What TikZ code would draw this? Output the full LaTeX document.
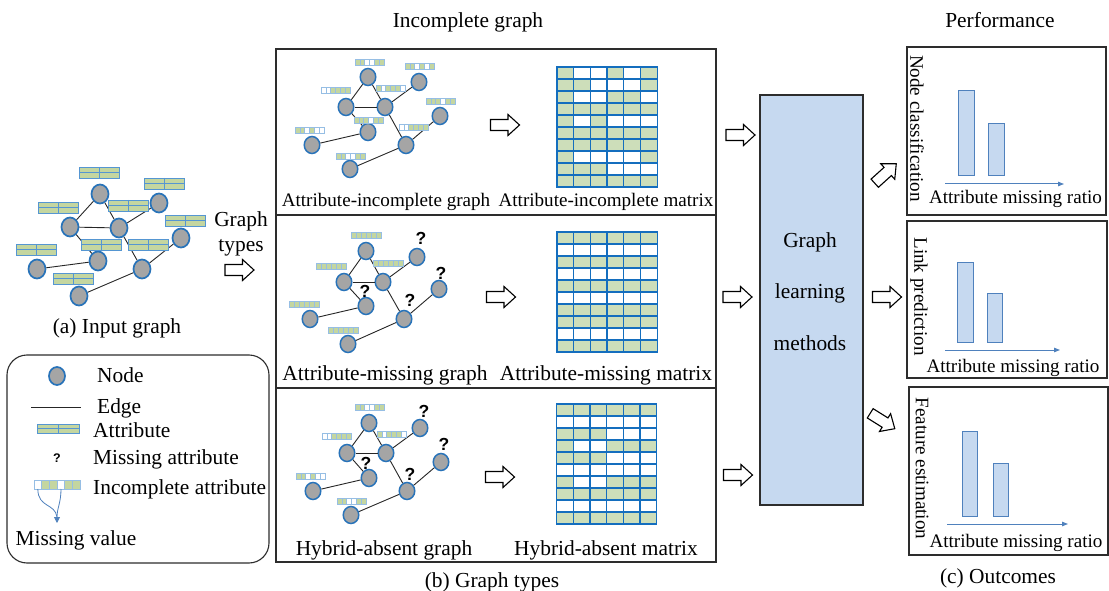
\documentclass[tikz,border=0pt]{standalone}
\usepackage{fontspec}
\setmainfont{Liberation Serif}
\newfontfamily\qfont{Liberation Sans}
\usetikzlibrary{shapes.geometric,arrows.meta}

\definecolor{nodegray}{RGB}{165,165,165}
\definecolor{nodeblue}{RGB}{40,115,185}
\definecolor{attrgreen}{RGB}{196,214,160}
\definecolor{matgreen}{RGB}{205,222,186}
\definecolor{matblue}{RGB}{20,110,190}
\definecolor{barblue}{RGB}{150,190,228}
\definecolor{attrblue}{RGB}{85,150,210}
\definecolor{boxfill}{RGB}{198,217,240}
\definecolor{boxedge}{RGB}{79,129,189}
\definecolor{framegray}{RGB}{45,45,45}

\newcommand\mybar[5]{% x, y, cell width, height, pattern
  \foreach \v [count=\i from 0] in {#5} {
    \ifnum\v=1\relax\def\cc{attrgreen}\else\def\cc{white}\fi
    \draw[barline, fill=\cc] ({#1+\i*#3},#2) rectangle ++(#3,#4);
  }}
\newcommand\mymatrix[3]{% x, y, rows
  \foreach \row [count=\r from 0] in {#3} {
    \foreach \v [count=\c from 0] in \row {
      \ifnum\v=1\relax\def\cc{matgreen}\else\def\cc{white}\fi
      \draw[matline, fill=\cc] ({#1+\c*16.7},{#2+\r*12}) rectangle ++(16.7,12);
    }}}
\newcommand\myattr[2]{%
  \draw[attrline, fill=attrgreen] (#1,#2) rectangle ++(40,11);
  \draw[attrline] ({#1+20},#2) -- ++(0,11);
  \draw[attrline] (#1,{#2+5.5}) -- ++(40,0);}

\tikzset{
  gnb/.style={ellipse, draw=nodeblue, fill=nodegray, line width=1.7pt, inner sep=0pt, minimum width=17pt, minimum height=19pt},
  gns/.style={gnb, line width=1.5pt, minimum width=15.5pt, minimum height=17pt},
  gedge/.style={draw=black!85, line width=0.9pt},
  barline/.style={draw=barblue, line width=0.6pt},
  attrline/.style={draw=attrblue, line width=0.9pt},
  matline/.style={draw=matblue, line width=1.3pt},
  boxframe/.style={draw=framegray, line width=1.3pt},
  lbl/.style={font=\fontsize{21.4}{25}\selectfont, inner sep=0pt},
  lbls/.style={font=\fontsize{19.1}{23}\selectfont, inner sep=0pt},
  qm/.style={font=\qfont\bfseries\fontsize{17.5}{20}\selectfont, inner sep=0pt},
  chartbar/.style={draw=boxedge, fill=boxfill, line width=1pt},
  axisarrow/.style={draw=boxedge, line width=1pt, -{Triangle[length=6pt,width=4.5pt]}},
  blockarrow/.pic={\draw[fill=white, draw=black, line width=1.1pt, line join=miter]
     (-14.5,-5.5) -- (3,-5.5) -- (3,-10.5) -- (14.5,0) -- (3,10.5) -- (3,5.5) -- (-14.5,5.5) -- cycle;}
}

\begin{document}
\begin{tikzpicture}[x=1pt,y=-1pt]
\useasboundingbox (0,0) rectangle (1109,591);
\fill[white] (0,0) rectangle (1109,591);

% ---------------- (a) input graph ----------------
\foreach \n/\x/\y in {1/100/194,2/159/203,3/70/227,4/119/228,5/181/238,6/98/261,7/37/269,8/142/269,9/79/296}
  \node[gnb] (N\n) at (\x,\y) {};
\foreach \a/\b in {1/3,1/4,3/4,4/2,3/6,6/7,4/8,8/5,8/9}
  \draw[gedge] (N\a) -- (N\b);
\myattr{79}{167}\myattr{144}{178}\myattr{38}{202}\myattr{108}{200}\myattr{165}{215}
\myattr{81}{239}\myattr{128}{239}\myattr{16}{244}\myattr{53}{273}
\node[lbl, anchor=base] (capa) at (117,333) {(a) Input graph};

% ---------------- legend ----------------
\draw[boxframe, line width=1.1pt, rounded corners=20pt] (7,355) rectangle (269,563);
\node[gnb, minimum width=16pt, minimum height=18pt] (lnode) at (57,376) {};
\node[lbl, anchor=base west] (tnode) at (97,382) {Node};
\coordinate (le1) at (31,407); \coordinate (le2) at (81,407);
\draw[gedge] (le1) -- (le2);
\node[lbl, anchor=base west] (tedge) at (97,413) {Edge};
\draw[attrline, fill=attrgreen] (37,424) rectangle (79,433);
\draw[attrline] (58,424) -- (58,433);
\draw[attrline] (37,428.5) -- (79,428.5);
\node[lbl, anchor=base west] (tattr) at (93,437) {Attribute};
\node[qm, font=\qfont\bfseries\fontsize{12.5}{14}\selectfont] (lq) at (57,458) {?};
\node[lbl, anchor=base west] (tmiss) at (93,464) {Missing attribute};
\mybar{34}{480}{7.67}{9}{0,1,1,0,1,1}
\node[lbl, anchor=base west] (tinc) at (93,494) {Incomplete attribute};
\coordinate (lc1) at (37.8,489); \coordinate (lc4) at (61,489); \coordinate (ltip) at (57,523);
\draw[boxedge, line width=0.8pt] (lc1) .. controls (38,508) and (55,503) .. (57,517);
\draw[boxedge, line width=0.8pt, -{Triangle[length=6pt,width=6pt]}] (lc4) .. controls (61,503) and (57,508) .. (ltip);
\node[lbl, anchor=base] (tmv) at (76,545) {Missing value};

% ---------------- graph types arrow ----------------
\node[lbl, anchor=base] (gt1) at (241,226) {Graph};
\node[lbl, anchor=base] (gt2) at (241,251) {types};
\pic at (239.5,270) {blockarrow};

% ---------------- (b) frame ----------------
\node[lbl, anchor=base] (tincg) at (468,28) {Incomplete graph};
\draw[boxframe] (276,49) rectangle (716,562);
\coordinate (s1l) at (276,215); \coordinate (s1r) at (716,215);
\coordinate (s2l) at (276,388); \coordinate (s2r) at (716,388);
\draw[boxframe] (s1l) -- (s1r);
\draw[boxframe] (s2l) -- (s2r);

% graph 1: attribute-incomplete
\foreach \n/\x/\y in {1/368/77,2/419/82,3/346/107,4/385/107,5/440/116,6/368/132,7/312/145,8/406/145,9/350/169}
  \node[gns] (P\n) at (\x,\y) {};
\foreach \a/\b in {1/3,1/4,3/4,4/2,3/6,6/7,4/8,8/5,8/9}
  \draw[gedge] (P\a) -- (P\b);
\mybar{355}{59}{4.85}{6}{1,1,0,0,1,1}
\mybar{405}{63}{4.85}{6}{1,1,0,1,0,1}
\mybar{321}{87}{4.85}{6}{0,0,1,1,1,1}
\mybar{376}{85}{4.85}{6}{1,0,1,1,1,0}
\mybar{426}{98}{4.85}{6}{1,1,1,0,1,1}
\mybar{354}{117}{4.85}{6}{1,1,1,0,1,1}
\mybar{295}{127}{4.85}{6}{1,1,0,1,0,0}
\mybar{399}{124}{4.85}{6}{0,0,1,1,1,1}
\mybar{336}{153}{4.85}{6}{1,1,0,0,1,1}
\pic at (505,125) {blockarrow};
\mymatrix{557}{67}{{1,0,0,1,0,1},{1,1,0,0,0,1},{1,0,0,1,1,0},{1,1,1,1,1,1},{1,0,1,0,0,0},{1,1,1,1,1,1},{1,1,1,1,1,1},{1,0,0,0,0,1},{1,1,1,0,0,0},{1,1,1,1,1,1}}
\node[lbls, anchor=base] (l1g) at (386,207) {Attribute-incomplete graph};
\node[lbls, anchor=base] (l1m) at (606,207) {Attribute-incomplete matrix};

% graph 2: attribute-missing
\foreach \n/\x/\y in {1/366/251,2/417/257,3/344/282,4/383/282,5/439/289,6/366/306,7/310/319,8/404/319,9/348/344}
  \node[gns] (Q\n) at (\x,\y) {};
\foreach \a/\b in {1/3,1/4,3/4,4/2,3/6,6/7,4/8,8/5,8/9}
  \draw[gedge] (Q\a) -- (Q\b);
\mybar{351}{232}{5.1}{6}{1,1,1,1,1,1}
\mybar{316}{263}{5.1}{6}{1,1,1,1,1,1}
\mybar{373}{260}{5.1}{6}{1,1,1,1,1,1}
\mybar{289}{301}{5.1}{6}{1,1,1,1,1,1}
\mybar{328}{327}{5.1}{6}{1,1,1,1,1,1}
\node[qm] (q21) at (421,238) {?};
\node[qm] (q22) at (441,273) {?};
\node[qm] (q23) at (365,291) {?};
\node[qm] (q24) at (410,300) {?};
\pic at (501,297) {blockarrow};
\mymatrix{557}{232}{{1,1,1,1,1,1},{0,0,0,0,0,0},{1,1,1,1,1,1},{0,0,0,0,0,0},{1,1,1,1,1,1},{0,0,0,0,0,0},{1,1,1,1,1,1},{1,1,1,1,1,1},{0,0,0,0,0,0},{1,1,1,1,1,1}}
\node[lbl, anchor=base] (l2g) at (385,380) {Attribute-missing graph};
\node[lbl, anchor=base] (l2m) at (606,380) {Attribute-missing matrix};

% graph 3: hybrid-absent
\foreach \n/\x/\y in {1/369/423,2/420/428,3/347/453,4/386/453,5/441/462,6/369/478,7/313/491,8/407/491,9/351/515}
  \node[gns] (R\n) at (\x,\y) {};
\foreach \a/\b in {1/3,1/4,3/4,4/2,3/6,6/7,4/8,8/5,8/9}
  \draw[gedge] (R\a) -- (R\b);
\mybar{355}{404}{4.85}{6}{1,1,0,0,1,1}
\mybar{322}{433}{4.85}{6}{0,0,1,1,1,1}
\mybar{377}{431}{4.85}{6}{1,0,1,1,1,0}
\mybar{296}{473}{4.85}{6}{1,1,0,1,0,0}
\mybar{337}{498}{4.85}{6}{1,1,0,0,1,1}
\node[qm] (q31) at (424,411) {?};
\node[qm] (q32) at (444,444) {?};
\node[qm] (q33) at (366,463) {?};
\node[qm] (q34) at (410,474) {?};
\pic at (500,477) {blockarrow};
\mymatrix{556.5}{404}{{1,1,1,1,1,1},{0,0,0,0,0,0},{1,1,1,0,0,0},{1,0,0,1,1,1},{1,1,1,0,0,0},{0,0,0,0,0,0},{1,0,0,1,1,1},{1,1,1,1,1,1},{0,0,0,0,0,0},{1,1,1,1,1,1}}
\node[lbl, anchor=base] (l3g) at (384,555) {Hybrid-absent graph};
\node[lbl, anchor=base] (l3m) at (606,555) {Hybrid-absent matrix};
\node[lbl, anchor=base] (capb) at (492,587) {(b) Graph types};

% ---------------- graph learning ----------------
\pic at (740.5,135) {blockarrow};
\pic at (737.5,297) {blockarrow};
\pic at (738,475) {blockarrow};
\node[draw=framegray, line width=1.3pt, fill=boxfill, minimum width=103pt, minimum height=410pt, inner sep=0pt] (gl) at (811.5,300) {};
\node[lbl, anchor=base] (gl1) at (810,247) {Graph};
\node[lbl, anchor=base] (gl2) at (810,298.5) {learning};
\node[lbl, anchor=base] (gl3) at (810,350) {methods};

\pic[rotate=42] at (885.5,173.5) {blockarrow};
\pic at (887,297) {blockarrow};
\pic[rotate=-32] at (882.5,421) {blockarrow};

% ---------------- (c) outcomes ----------------
\node[lbl, anchor=base] (tperf) at (1000,28) {Performance};
% box 1
\draw[boxframe, line width=1.5pt] (907,47) rectangle (1106,215);
\node[lbls, rotate=-90] (r1) at (917,128.5) {Node classification};
\draw[chartbar] (958,91) rectangle (974,176);
\draw[chartbar] (988,124) rectangle (1004,176);
\coordinate (ax1a) at (945,184); \coordinate (ax1b) at (1064,184);
\draw[axisarrow] (ax1a) -- (ax1b);
\node[lbls, anchor=base] (x1) at (1015.5,204) {Attribute missing ratio};
% box 2
\draw[boxframe, line width=1.5pt] (907,221) rectangle (1107,378);
\node[lbls, rotate=-90] (r2) at (919,296.5) {Link prediction};
\draw[chartbar] (957,262) rectangle (973,342);
\draw[chartbar] (987,293) rectangle (1002,342);
\coordinate (ax2a) at (945,350); \coordinate (ax2b) at (1060,350);
\draw[axisarrow] (ax2a) -- (ax2b);
\node[lbls, anchor=base] (x2) at (1013,372) {Attribute missing ratio};
% box 3
\draw[boxframe, line width=1.5pt] (909,387) rectangle (1108,555);
\node[lbls, rotate=-90] (r3) at (922,468.5) {Feature estimation};
\draw[chartbar] (962,431) rectangle (977,516);
\draw[chartbar] (993,463) rectangle (1008,516);
\coordinate (ax3a) at (947,524); \coordinate (ax3b) at (1068,524);
\draw[axisarrow] (ax3a) -- (ax3b);
\node[lbls, anchor=base] (x3) at (1016,547) {Attribute missing ratio};
\node[lbl, anchor=base] (capc) at (998,583) {(c) Outcomes};
\end{tikzpicture}
\end{document}
